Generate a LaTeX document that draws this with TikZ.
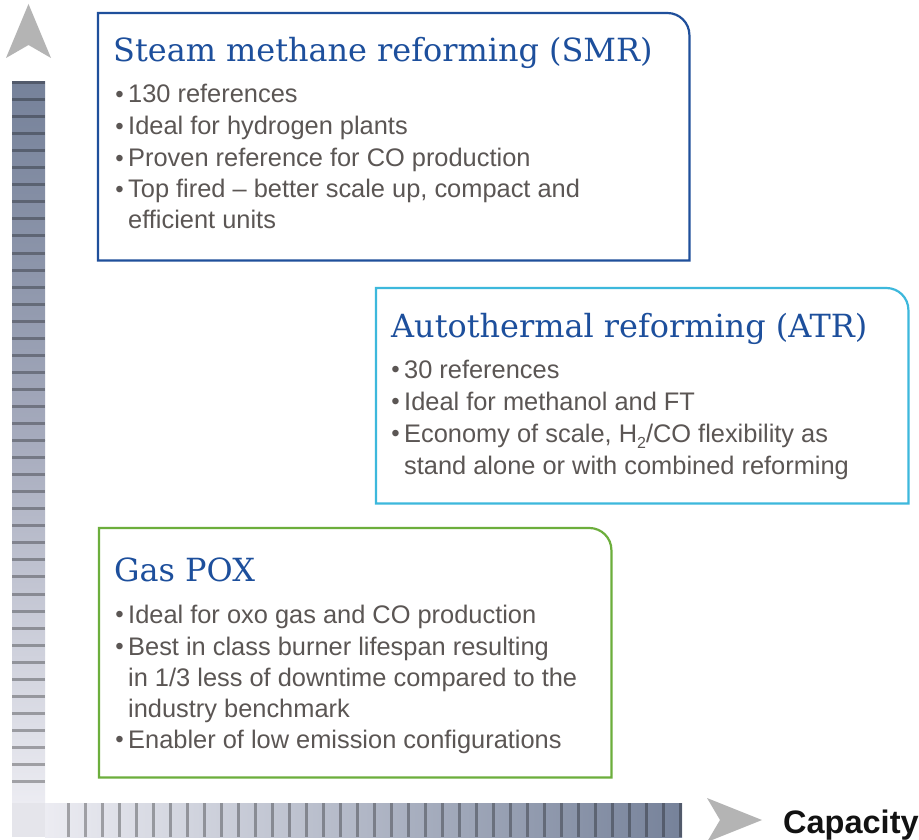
\documentclass[tikz,border=0pt]{standalone}
\usepackage{fontspec}
\newfontfamily\bodyfont{Liberation Sans}
\newfontfamily\headfont{DejaVu Serif}
\definecolor{bodygrey}{HTML}{5B5654}
\definecolor{headblue}{HTML}{1D4F9C}
\definecolor{smrblue}{HTML}{1F4F9B}
\definecolor{atrcyan}{HTML}{3DB8DC}
\definecolor{poxgreen}{HTML}{6CAE3C}
\definecolor{arrowgrey}{HTML}{B4B4B4}
\definecolor{bardark}{HTML}{76829A}
\definecolor{barmid}{HTML}{A6ABBD}
\definecolor{barlight}{HTML}{ECECF2}
\newcommand\bul{\llap{\raisebox{0.5pt}{\fontsize{24}{24}\selectfont •}\hspace{4.5pt}}}
\begin{document}
\begin{tikzpicture}[x=1pt,y=-1pt,
  bodyline/.style={anchor=base west, inner sep=0pt, text=bodygrey,
    font=\bodyfont\fontsize{25.4}{30}\selectfont},
  headline/.style={anchor=base west, inner sep=0pt, text=headblue,
    font=\headfont\fontsize{31.9}{36}\selectfont},
  panel/.style={draw=none, inner sep=0pt, anchor=north west},
  border/.style={line width=2.2pt},
  stripe/.style={black, opacity=0.3, line width=3pt},
  axisarrow/.style={fill=arrowgrey}]
\useasboundingbox[fill=white] (0,0) rectangle (919,840);

% capacity scale bars
\shade[top color=bardark, bottom color=barmid, middle color=bardark!55!barmid] (12,82) rectangle (45,440);
\shade[top color=barmid, bottom color=barlight] (12,440) rectangle (45,803);
\shade[left color=barlight, right color=bardark] (45,803) rectangle (682,837);
\fill[barlight!97!black] (12,803) rectangle (45,837);
\foreach \k in {0,...,41}
  \draw[stripe] (12,82.5+17.05*\k) -- (45,82.5+17.05*\k);
\foreach \k in {0,...,36}
  \draw[stripe] (68+17*\k,803) -- (68+17*\k,837);

% axis arrowheads
\fill[axisarrow] (28.5,4) -- (51,58) -- (28.5,45) -- (6,58) -- cycle;
\fill[axisarrow] (762,820) -- (707,842) -- (720,820) -- (707,798) -- cycle;
\node[anchor=base west, inner sep=0pt, font=\bodyfont\bfseries\fontsize{32.5}{36}\selectfont, text=black!93] (cap) at (783,833) {Capacity};

% panels
\node[panel, minimum width=591pt, minimum height=247pt] (smr) at (98,13) {};
\node[panel, minimum width=532pt, minimum height=215pt] (atr) at (376,288) {};
\node[panel, minimum width=512pt, minimum height=249pt] (pox) at (99,528) {};
\draw[border, draw=smrblue] (smr.south west) -- (smr.north west) [rounded corners=22pt] -- (smr.north east) [sharp corners] -- (smr.south east) -- cycle;
\draw[border, draw=atrcyan] (atr.south west) -- (atr.north west) [rounded corners=22pt] -- (atr.north east) [sharp corners] -- (atr.south east) -- cycle;
\draw[border, draw=poxgreen] (pox.south west) -- (pox.north west) [rounded corners=22pt] -- (pox.north east) [sharp corners] -- (pox.south east) -- cycle;

% steam methane reforming
\node[headline] (smr-t) at (113,62) {Steam methane reforming (SMR)};
\node[bodyline] (smr-1) at (128,103) {\bul 130 references};
\node[bodyline] (smr-2) at (128,135) {\bul Ideal for hydrogen plants};
\node[bodyline] (smr-3) at (128,167) {\bul Proven reference for CO production};
\node[bodyline] (smr-4) at (128,198) {\bul Top fired – better scale up, compact and};
\node[bodyline] (smr-5) at (128,229) {efficient units};

% autothermal reforming
\node[headline] (atr-t) at (391,337) {Autothermal reforming (ATR)};
\node[bodyline] (atr-1) at (404,378) {\bul 30 references};
\node[bodyline] (atr-2) at (404,410) {\bul Ideal for methanol and FT};
\node[bodyline] (atr-3) at (404,442) {\bul Economy of scale, H\raisebox{-6pt}{\fontsize{16}{16}\selectfont 2}/CO flexibility as};
\node[bodyline] (atr-4) at (404,474) {stand alone or with combined reforming};

% gas partial oxidation
\node[headline] (pox-t) at (114,581) {Gas POX};
\node[bodyline] (pox-1) at (128,623) {\bul Ideal for oxo gas and CO production};
\node[bodyline] (pox-2) at (128,655) {\bul Best in class burner lifespan resulting};
\node[bodyline] (pox-3) at (128,686) {in 1/3 less of downtime compared to the};
\node[bodyline] (pox-4) at (128,717) {industry benchmark};
\node[bodyline] (pox-5) at (128,748) {\bul Enabler of low emission configurations};
\end{tikzpicture}
\end{document}
